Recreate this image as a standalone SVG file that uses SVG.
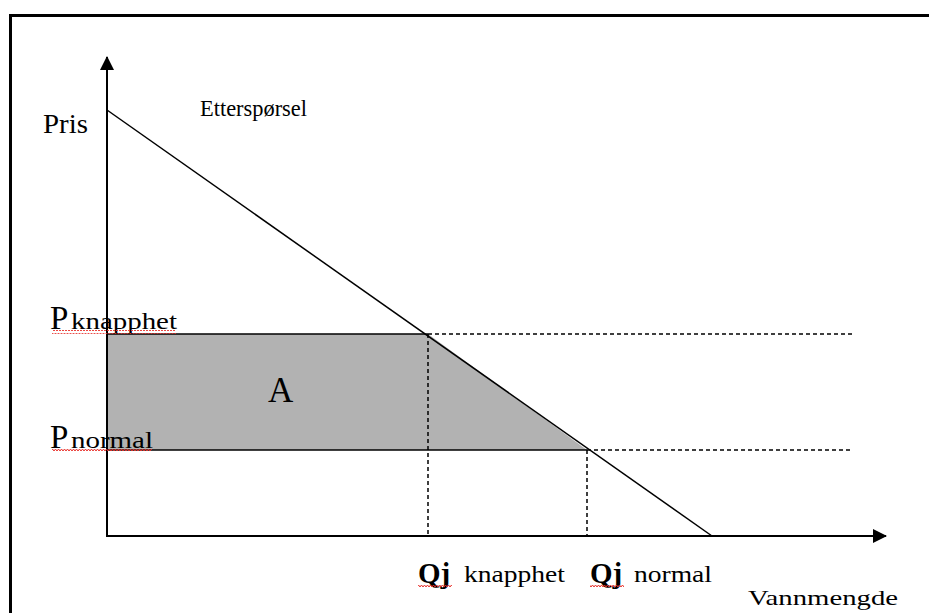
<svg xmlns="http://www.w3.org/2000/svg" width="929" height="613" viewBox="0 0 929 613">
  <defs>
    <style>
      .t { font-family: "Liberation Serif", "Times New Roman", serif; fill: #000; }
      .axis { stroke: #000; stroke-width: 2; fill: none; }
      .solid { stroke: #000; stroke-width: 1.5; fill: none; }
      .dash { stroke: #000; stroke-width: 1.5; stroke-dasharray: 4 3; fill: none; }
      .squig { stroke: #e8302a; stroke-width: 1; fill: none; }
    </style>
    <marker id="arrow" viewBox="0 0 14 14" refX="13" refY="7" markerWidth="14" markerHeight="14" markerUnits="userSpaceOnUse" orient="auto">
      <path d="M0,0 L14,7 L0,14 Z" fill="#000"/>
    </marker>
    <pattern id="wave" width="6" height="4" patternUnits="userSpaceOnUse">
      <path d="M0,3 L1.5,1 L3,3 L4.5,1 L6,3" class="squig"/>
    </pattern>
  </defs>

  <rect width="929" height="613" fill="#fff"/>
  <!-- outer frame -->
  <path d="M10.5,640 L10.5,15.5 L940,15.5" stroke="#000" stroke-width="3" fill="none"/>

  <!-- shaded area A -->
  <g id="area-a">
    <polygon points="107,334 428,334 587,450 107,450" fill="#b2b2b2"/>
    <text class="t" x="268" y="402" font-size="35">A</text>
  </g>

  <g id="connectors">
    <!-- axes -->
    <line class="axis" x1="107" y1="537" x2="107" y2="57" marker-end="url(#arrow)"/>
    <line class="axis" x1="106" y1="536" x2="886" y2="536" marker-end="url(#arrow)"/>
    <!-- demand curve -->
    <line class="solid" x1="107" y1="110" x2="712" y2="536"/>
    <!-- price levels -->
    <line class="solid" x1="107" y1="334" x2="428" y2="334"/>
    <line class="dash" x1="428" y1="334" x2="852" y2="334"/>
    <line class="solid" x1="107" y1="450" x2="587" y2="450"/>
    <line class="dash" x1="587" y1="450" x2="852" y2="450"/>
    <!-- quantity levels -->
    <line class="dash" x1="428" y1="334" x2="428" y2="536"/>
    <line class="dash" x1="587" y1="450" x2="587" y2="536"/>
  </g>

  <g id="label-pris">
    <text class="t" x="43" y="133" font-size="28" textLength="45" lengthAdjust="spacingAndGlyphs">Pris</text>
  </g>
  <g id="label-ettersporsel">
    <text class="t" x="200" y="116" font-size="24" textLength="107" lengthAdjust="spacingAndGlyphs">Etterspørsel</text>
  </g>
  <g id="label-p-knapphet">
    <text class="t" x="50" y="329" font-size="33">P</text>
    <text class="t" x="71" y="329" font-size="23" textLength="106" lengthAdjust="spacingAndGlyphs">knapphet</text>
    <rect x="52" y="330" width="124" height="4" fill="url(#wave)"/>
  </g>
  <g id="label-p-normal">
    <text class="t" x="50" y="448" font-size="33">P</text>
    <text class="t" x="71" y="448" font-size="23" textLength="82" lengthAdjust="spacingAndGlyphs">normal</text>
    <rect x="52" y="449" width="100" height="4" fill="url(#wave)"/>
  </g>
  <g id="label-q-knapphet">
    <text class="t" x="418" y="583" font-size="29" font-weight="bold">Qj</text>
    <text class="t" x="464" y="582" font-size="23" textLength="101" lengthAdjust="spacingAndGlyphs">knapphet</text>
    <rect x="418" y="585" width="34" height="4" fill="url(#wave)"/>
  </g>
  <g id="label-q-normal">
    <text class="t" x="590" y="583" font-size="29" font-weight="bold">Qj</text>
    <text class="t" x="634" y="582" font-size="23" textLength="78" lengthAdjust="spacingAndGlyphs">normal</text>
    <rect x="590" y="585" width="34" height="4" fill="url(#wave)"/>
  </g>
  <g id="label-vannmengde">
    <text class="t" x="748" y="605" font-size="22" textLength="150" lengthAdjust="spacingAndGlyphs">Vannmengde</text>
  </g>
</svg>
